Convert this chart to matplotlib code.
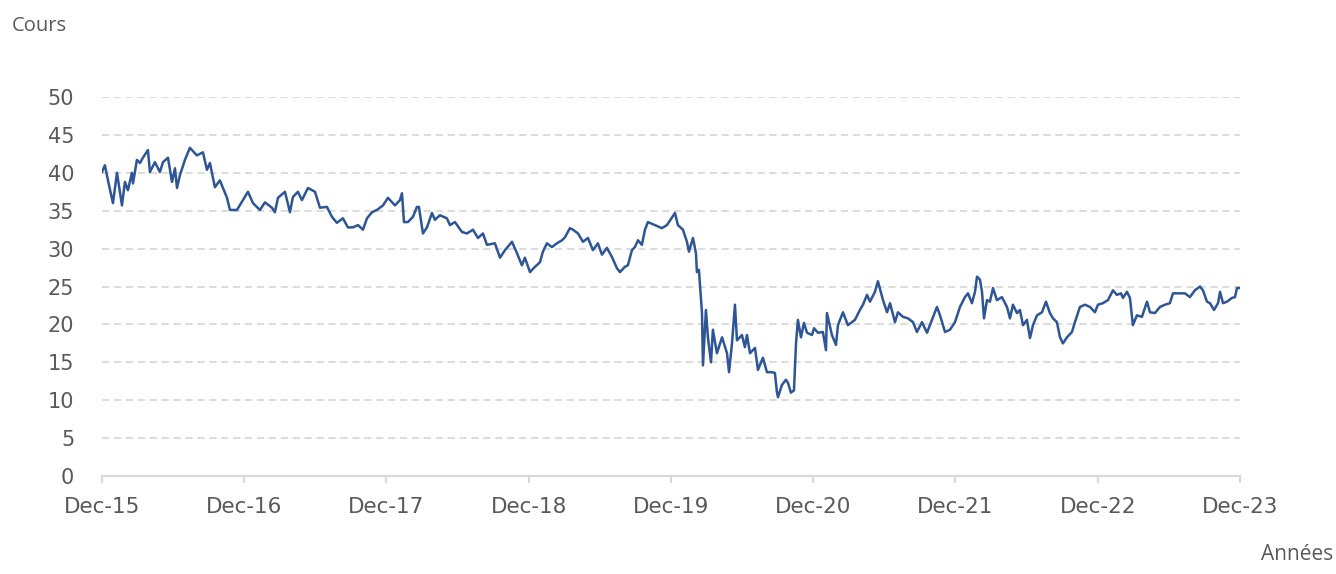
"""
Cours de l'action, Dec-15 a Dec-23
"""

# =========================================================
# IMPORTS
# =========================================================
import numpy as np
import matplotlib
matplotlib.use("Agg")
import matplotlib.pyplot as plt

# =========================================================
# DATA
# months = months elapsed since Dec-15
# =========================================================
months = [
    0.0, 0.25, 0.51, 0.93, 1.27, 1.69, 1.94, 2.19, 2.53, 2.62, 2.95, 3.21,
    3.46, 3.88, 4.05, 4.47, 4.89, 5.15, 5.57, 5.91, 6.16, 6.33, 6.58, 7.00,
    7.42, 8.01, 8.52, 8.86, 9.11, 9.53, 9.95, 10.55, 10.80, 11.39, 11.89,
    12.32, 12.74, 13.33, 13.75, 14.34, 14.59, 14.85, 15.44, 15.86, 16.11,
    16.53, 16.87, 17.38, 17.97, 18.39, 18.98, 19.40, 19.82, 20.33, 20.75,
    21.17, 21.60, 22.02, 22.36, 22.78, 23.20, 23.71, 24.13,
    24.72, 25.14, 25.31, 25.48, 25.81, 26.24, 26.57, 26.74, 27.08, 27.42,
    27.84, 28.09, 28.51, 29.10, 29.36, 29.78, 30.37, 30.79, 31.30, 31.72,
    32.14, 32.48, 33.15, 33.58, 34.00, 34.59, 35.01, 35.43, 35.68, 36.11,
    36.53, 36.95, 37.20, 37.54, 37.96, 38.38, 38.81, 39.06, 39.48, 39.73,
    40.16, 40.58, 41.00, 41.42, 41.84, 42.18, 42.60, 43.02, 43.45, 43.70,
    44.12, 44.37, 44.71, 44.96, 45.22, 45.55, 45.81, 46.06, 46.65, 47.24,
    47.66, 48.34, 48.59, 49.01, 49.35, 49.52, 49.86, 50.11, 50.19, 50.36,
    50.62, 50.70, 50.95, 51.12, 51.38, 51.54, 51.88, 52.31, 52.73, 52.90,
    53.15, 53.40, 53.57, 53.99, 54.24, 54.41, 54.67, 55.09, 55.34, 55.76,
    56.10, 56.52, 56.77, 56.94, 57.03, 57.36, 57.70, 57.87, 58.12, 58.38,
    58.55, 58.71, 58.97, 59.22, 59.48, 59.90, 60.07, 60.40, 60.82, 61.08,
    61.16, 61.58, 61.92,
    62.09, 62.51, 62.93, 63.52, 63.94, 64.20, 64.54, 64.79, 65.21, 65.46,
    65.89, 66.23, 66.48, 66.90, 67.15, 67.57, 67.99, 68.42, 68.75, 69.18,
    69.60, 70.02, 70.44, 70.70, 71.12, 71.54, 71.96, 72.38, 72.80, 73.06,
    73.39, 73.65, 73.82, 74.07, 74.24, 74.41, 74.66, 74.91, 75.17, 75.50,
    75.92, 76.35, 76.60, 76.85, 77.19, 77.44, 77.70, 78.03, 78.29, 78.54,
    78.88, 79.30, 79.64, 79.97, 80.23, 80.56, 80.82, 81.07, 81.41, 81.83,
    82.08, 82.50, 82.93, 83.35, 83.77, 84.02, 84.44, 84.86, 85.29, 85.62,
    85.96, 86.13, 86.47, 86.72, 86.97, 87.31, 87.73, 88.16, 88.41, 88.83,
    89.25, 89.67, 90.09, 90.35, 90.77, 91.36, 91.78, 92.20, 92.63, 92.88,
    93.22, 93.47, 93.81, 94.15, 94.32, 94.57, 94.91, 95.33, 95.58, 95.75,
    95.92,
]

cours = [
    40.1, 41.0, 39.0, 36.0, 40.0, 35.7, 38.8, 37.7, 40.0, 38.6, 41.7, 41.3,
    42.0, 43.0, 40.1, 41.4, 40.1, 41.4, 42.0, 38.8, 40.6, 38.0, 39.7, 41.7,
    43.3, 42.3, 42.7, 40.4, 41.3, 38.1, 39.0, 36.7, 35.1, 35.1, 36.4,
    37.5, 36.0, 35.1, 36.1, 35.4, 34.8, 36.7, 37.5, 34.8, 36.8,
    37.5, 36.4, 38.0, 37.5, 35.4, 35.5, 34.2, 33.4, 34.0, 32.8,
    32.8, 33.1, 32.5, 34.0, 34.8, 35.1, 35.7, 36.7,
    35.7, 36.4, 37.3, 33.5, 33.5, 34.2, 35.5, 35.5, 32.0, 32.8,
    34.7, 33.8, 34.4, 34.0, 33.1, 33.5, 32.2, 32.0, 32.5, 31.4,
    32.0, 30.5, 30.7, 28.8, 29.8, 30.9, 29.4, 27.8, 28.8, 26.9,
    27.6, 28.2, 29.6, 30.7, 30.2, 30.7, 31.1, 31.5, 32.7, 32.5,
    32.0, 30.9, 31.4, 29.8, 30.7, 29.2, 30.1, 28.9, 27.4, 26.9,
    27.6, 27.8, 29.8, 30.2, 31.1, 30.5, 32.5, 33.5, 33.1, 32.7,
    33.1, 34.7, 33.1, 32.5, 30.9, 29.6, 31.4, 29.4, 26.9, 27.2,
    21.5, 14.6, 21.9, 18.3, 15.0, 19.3, 16.2, 18.3, 16.2, 13.7,
    17.5, 22.6, 17.9, 18.6, 17.0, 18.6, 16.2, 16.9, 14.0, 15.6,
    13.7, 13.7, 13.6, 11.1, 10.4, 12.0, 12.7, 12.3, 11.0, 11.3,
    17.5, 20.6, 18.3, 20.2, 18.9, 18.6, 19.5, 18.9, 19.0, 16.6,
    21.5, 18.6, 17.3,
    19.9, 21.6, 19.9, 20.6, 21.9, 22.6, 23.9, 23.0, 24.3, 25.7,
    23.2, 21.6, 22.8, 20.3, 21.6, 21.0, 20.8, 20.3, 19.0, 20.3,
    18.9, 20.6, 22.3, 21.2, 19.0, 19.3, 20.3, 22.3, 23.6, 24.1,
    22.8, 24.3, 26.3, 25.9, 24.3, 20.8, 23.2, 23.0, 24.8, 23.2,
    23.6, 22.3, 20.8, 22.6, 21.5, 21.9, 19.9, 20.6, 18.2, 19.9,
    21.2, 21.6, 23.0, 21.5, 20.8, 20.3, 18.3, 17.5, 18.3, 19.0,
    20.3, 22.3, 22.6, 22.3, 21.6, 22.6, 22.8, 23.2, 24.5, 23.9,
    24.1, 23.5, 24.3, 23.5, 19.9, 21.2, 21.0, 23.0, 21.6, 21.5,
    22.3, 22.6, 22.8, 24.1, 24.1, 24.1, 23.6, 24.5, 25.0, 24.5,
    23.0, 22.8, 21.9, 22.8, 24.3, 22.8, 23.0, 23.5, 23.6, 24.8,
    24.8,
]

tick_months = [0, 12, 24, 36, 48, 60, 72, 84, 96]
tick_labels = ["Dec-15", "Dec-16", "Dec-17", "Dec-18", "Dec-19",
               "Dec-20", "Dec-21", "Dec-22", "Dec-23"]
y_ticks = [0, 5, 10, 15, 20, 25, 30, 35, 40, 45, 50]

# =========================================================
# STYLE
# =========================================================
LINE_COLOR = "#2E5597"
GRID_COLOR = "#D9D9D9"
TEXT_COLOR = "#595959"

# =========================================================
# PLOT
# =========================================================
fig = plt.figure(figsize=(13.36, 5.74), dpi=100, facecolor="white")
ax = fig.add_axes([0.0763, 0.1707, 0.8518, 0.6603])

ax.plot(months, cours, color=LINE_COLOR, linewidth=1.8,
        solid_joinstyle="round")

ax.set_xlim(0, 96)
ax.set_ylim(0, 50)

ax.set_yticks(y_ticks)
ax.set_xticks(tick_months)
ax.set_xticklabels(tick_labels)

# dashed horizontal grid (not on 0)
for yv in y_ticks[1:]:
    ax.axhline(yv, color=GRID_COLOR, linewidth=1.3,
               linestyle=(0, (4, 2.6)), zorder=0)

for side in ["top", "right", "left"]:
    ax.spines[side].set_visible(False)
ax.spines["bottom"].set_color(GRID_COLOR)
ax.spines["bottom"].set_linewidth(1.6)

ax.tick_params(axis="y", length=0, pad=20, labelsize=15,
               labelcolor=TEXT_COLOR)
ax.tick_params(axis="x", length=5, width=1.6, color=GRID_COLOR,
               pad=10, labelsize=15.5, labelcolor=TEXT_COLOR)
for lbl in ax.get_xticklabels() + ax.get_yticklabels():
    lbl.set_family("DejaVu Sans")

fig.text(0.009, 0.955, "Cours", fontsize=14.5, color=TEXT_COLOR,
         family="Open Sans", ha="left", va="center")
fig.text(0.998, 0.015, "Années", fontsize=15, color=TEXT_COLOR,
         family="Open Sans", ha="right", va="bottom")

fig.savefig("out.png", dpi=100, facecolor="white")
plt.close("all")
